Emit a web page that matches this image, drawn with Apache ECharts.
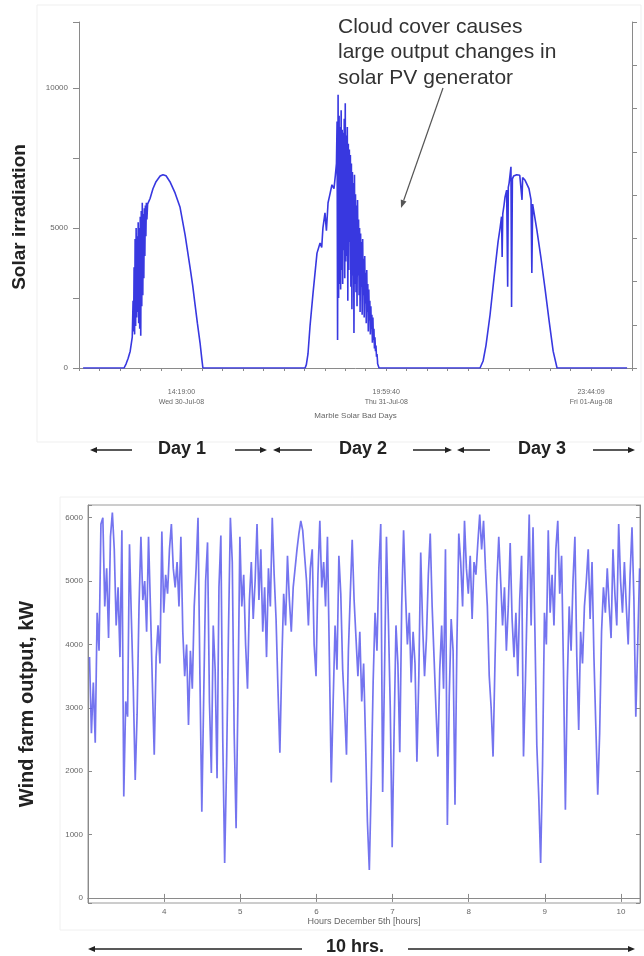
<!DOCTYPE html>
<html>
<head>
<meta charset="utf-8">
<script src="https://cdn.jsdelivr.net/npm/echarts@6/dist/echarts.min.js"></script>
<style>
  html, body { margin: 0; padding: 0; background: #fff; }
  #chart { width: 644px; height: 956px; }
</style>
</head>
<body>
<div id="chart"></div>
<script>
// ---- Solar irradiation, three sample days (x in time-axis units) ----
const solarTickValues = [10, 20, 30];
const solarTickLabels = ['14:19:00\nWed 30-Jul-08', '19:59:40\nThu 31-Jul-08', '23:44:09\nFri 01-Aug-08'];

const day1Rise = [[5.20, 0], [7.20, 0], [7.30, 150], [7.40, 350], [7.50, 600], [7.60, 1100]];
// cloud-affected stretch on day 1, sampled every 0.025 units
const day1CloudStart = 7.64;
const day1CloudValues = [
  2400, 1300, 3600, 1200, 4600, 1500, 5000, 1800, 4700, 2000,
  5200, 1600, 5000, 1400, 5400, 1150, 5600, 2200, 5900, 2600,
  5500, 3200, 5700, 4000, 5800, 4700, 5900, 5300];
const day1Fall = [[8.35, 5850], [8.47, 6050], [8.61, 6400], [8.76, 6650], [8.96, 6850], [9.10, 6900],
  [9.25, 6860], [9.44, 6650], [9.69, 6250], [9.93, 5750], [10.18, 4750], [10.42, 3600], [10.55, 2950],
  [10.66, 2300], [10.78, 1600], [10.91, 900], [11.00, 300], [11.05, 0]];

const day2Rise = [[16.04, 0], [16.10, 120], [16.18, 500], [16.28, 1500], [16.43, 2700], [16.62, 4100],
  [16.77, 4460], [16.85, 4300], [16.91, 5000], [17.01, 5540], [17.08, 4900], [17.16, 5900], [17.25, 6200],
  [17.35, 6540], [17.45, 6400], [17.52, 6900], [17.57, 7300]];
// heavy cloud cover on day 2, sampled every 0.025 units
const day2CloudStart = 17.60;
const day2CloudValues = [
  8800, 1000, 9750, 2500, 9000, 3000, 8600, 2800, 9200, 3500,
  8500, 3000, 8400, 4200, 8900, 3200, 9450, 3800, 8300, 4000,
  8600, 2400, 8000, 3500, 7800, 4500, 7600, 2900, 7300, 2100,
  7000, 3300, 6600, 1250, 6900, 3000, 6200, 2700, 5800, 2200,
  6000, 3300, 5300, 2600, 5000, 2000, 4800, 2900, 4500, 1900,
  4600, 2600, 3900, 1800, 4000, 2300, 3400, 1600, 3500, 2000,
  3000, 1300, 2800, 1700, 2400, 1200, 2200, 1400, 1900, 900,
  1800, 1000, 1400, 700, 1100, 600, 800, 400, 500, 250];
const day2Fall = [[19.58, 150], [19.65, 0]];

const day3Curve = [[24.58, 0], [24.73, 250], [24.87, 800], [25.07, 1900], [25.26, 3200], [25.46, 4500],
  [25.56, 5000], [25.63, 5400], [25.66, 3960], [25.69, 5500], [25.75, 5800], [25.80, 6100], [25.88, 6350],
  [25.93, 2900], [25.96, 6450], [26.00, 6600], [26.05, 6650], [26.09, 7180], [26.12, 2180], [26.16, 6750],
  [26.22, 6850], [26.29, 6880], [26.37, 6900], [26.44, 6900], [26.52, 6880], [26.60, 6840], [26.63, 6000],
  [26.66, 6800], [26.78, 6700], [26.97, 6400], [27.07, 6000], [27.11, 3390], [27.15, 5850], [27.17, 5750],
  [27.36, 4900], [27.56, 3900], [27.76, 2800], [27.95, 1700], [28.15, 600], [28.34, 0], [31.76, 0]];

const cloudStep = 0.025;

// ---- Wind farm output, kW (hours on December 5th) ----
const windStart = 3.02;
const windStep = 0.025;
const windValues = [
  3800, 2600, 3400, 2450, 4500, 3900, 5900, 6000, 4600, 5200,
  4100, 5700, 6080, 5500, 4300, 4900, 3800, 5800, 1600, 3100,
  2860, 5580, 4400, 3300, 1860, 2900, 4600, 5700, 4700, 5000,
  4200, 5700, 4600, 3400, 2260, 3800, 4300, 3700, 5780, 4500,
  5100, 4800, 5500, 5900, 5200, 4900, 5300, 4600, 5700, 4200,
  3500, 4000, 2730, 3900, 3300, 4600, 5200, 6000, 3500, 1360,
  3200, 5000, 5610, 3100, 1970, 4300, 3600, 1890, 4900, 5720,
  2500, 550, 2100, 4200, 6000, 5300, 2600, 1100, 3200, 5700,
  4600, 5100, 4000, 3300, 4700, 5300, 4400, 5000, 5900, 4700,
  5500, 4200, 4900, 3800, 5200, 4600, 6000, 5100, 4400, 3300,
  2290, 3700, 4800, 4300, 5400, 4700, 4200, 4900, 5200, 5500,
  5750, 5950, 5800, 5400, 5000, 4300, 5200, 5500, 4000, 3500,
  5100, 5950, 4900, 5300, 4600, 5700, 3800, 1820, 3100, 4300,
  3600, 5400, 4800, 3600, 3000, 2260, 3900, 4800, 5650, 4700,
  4100, 3500, 4200, 3100, 3700, 2500, 1200, 440, 1800, 3400,
  4500, 3900, 5200, 5900, 1670, 3600, 5700, 4400, 3000, 800,
  2600, 4300, 3700, 2300, 4600, 5800, 4800, 4000, 4500, 3400,
  4200, 3700, 2150, 3500, 5450, 4300, 3500, 4100, 5100, 5750,
  4600, 3800, 3000, 2230, 3600, 4300, 3300, 5500, 1150, 3200,
  4400, 3900, 1470, 4000, 5750, 5300, 4600, 5950, 5200, 4800,
  5400, 4400, 5300, 5100, 5600, 6050, 5500, 5950, 5200, 4600,
  3500, 3000, 2230, 3700, 5000, 5700, 5000, 4300, 4900, 3900,
  4600, 5600, 4400, 3800, 4500, 3500, 4700, 5400, 2230, 3400,
  4800, 6050, 4300, 5850, 4200, 2400, 1600, 550, 2100, 4500,
  4000, 5800, 4500, 5100, 4300, 5500, 5950, 4800, 5400, 3600,
  1390, 3400, 4600, 3900, 5000, 5700, 3800, 2650, 4200, 3700,
  4600, 5000, 5500, 4400, 5300, 3800, 2700, 1630, 2600, 4200,
  4900, 4500, 5200, 4600, 4100, 5500, 4800, 4300, 5900, 5000,
  4500, 5300, 4600, 4000, 5100, 5850, 4700, 2860, 4000, 5200];

// ---- assemble series data ----
function sampled(start, step, values) {
  return values.map((v, i) => [+(start + i * step).toFixed(4), v]);
}
const solarData = [].concat(
  day1Rise,
  sampled(day1CloudStart, cloudStep, day1CloudValues),
  day1Fall,
  day2Rise,
  sampled(day2CloudStart, cloudStep, day2CloudValues),
  day2Fall,
  day3Curve
);
const windData = sampled(windStart, windStep, windValues);

// ---- annotation helpers ----
const INK = '#222';
function arrow(xFrom, xTo, y, color, width) {
  // straight horizontal arrow whose head sits at xTo
  const dir = xTo > xFrom ? 1 : -1;
  const head = 7, half = 3;
  return [
    { type: 'line', silent: true, shape: { x1: xFrom, y1: y, x2: xTo - dir * head, y2: y },
      style: { stroke: color, lineWidth: width } },
    { type: 'polygon', silent: true,
      shape: { points: [[xTo, y], [xTo - dir * head, y - half], [xTo - dir * head, y + half]] },
      style: { fill: color } }
  ];
}
function slantArrow(x1, y1, x2, y2, color) {
  const ang = Math.atan2(y2 - y1, x2 - x1);
  const L = 8, W = 3;
  const bx = x2 - L * Math.cos(ang), by = y2 - L * Math.sin(ang);
  const px = -Math.sin(ang) * W, py = Math.cos(ang) * W;
  return [
    { type: 'line', silent: true, shape: { x1: x1, y1: y1, x2: bx, y2: by },
      style: { stroke: color, lineWidth: 1.2 } },
    { type: 'polygon', silent: true,
      shape: { points: [[x2, y2], [bx + px, by + py], [bx - px, by - py]] },
      style: { fill: color } }
  ];
}
function bigLabel(text, x, y) {
  return { type: 'text', silent: true,
    style: { text: text, x: x, y: y, align: 'center', verticalAlign: 'middle',
      font: 'bold 18px "Liberation Sans", Arial, sans-serif', fill: INK } };
}

const graphics = [].concat(
  [
    { type: 'rect', silent: true, shape: { x: 37, y: 5, width: 604, height: 437 },
      style: { fill: 'none', stroke: '#efefef', lineWidth: 1 } },
    { type: 'rect', silent: true, shape: { x: 60, y: 497, width: 590, height: 433 },
      style: { fill: 'none', stroke: '#f0f0f0', lineWidth: 1 } },
    { type: 'text', silent: true,
      style: { text: 'Cloud cover causes\nlarge output changes in\nsolar PV generator',
        x: 338, y: 14, align: 'left', verticalAlign: 'top', lineHeight: 25.5,
        font: '21px "Liberation Sans", Arial, sans-serif', fill: '#333' } }
  ],
  slantArrow(443, 88, 401, 208, '#555'),
  [bigLabel('Day 1', 182, 449), bigLabel('Day 2', 363, 449), bigLabel('Day 3', 542, 449)],
  arrow(132, 90, 450, INK, 1.5), arrow(235, 267, 450, INK, 1.5),
  arrow(312, 273, 450, INK, 1.5), arrow(413, 452, 450, INK, 1.5),
  arrow(490, 457, 450, INK, 1.5), arrow(593, 635, 450, INK, 1.5),
  [bigLabel('10 hrs.', 355, 947)],
  arrow(302, 88, 949, INK, 1.5), arrow(408, 635, 949, INK, 1.5)
);

const AX = '#8a8a8a';
const LBL = '#666';
const SMALL = '"Liberation Sans", Arial, sans-serif';

const option = {
  animation: false,
  backgroundColor: '#fff',
  grid: [
    { left: 79, right: 12, top: 22, bottom: 588 },
    { left: 88, right: 4, top: 505, bottom: 53, show: true, borderColor: '#9a9a9a', borderWidth: 1 }
  ],
  xAxis: [
    { gridIndex: 0, type: 'value', min: 5, max: 32, interval: 1, offset: 11,
      axisLine: { lineStyle: { color: AX } },
      axisTick: { show: true, length: 3, lineStyle: { color: AX } },
      splitLine: { show: false },
      axisLabel: { margin: 8, fontSize: 7, lineHeight: 10, color: LBL, fontFamily: SMALL,
        formatter: v => { const k = solarTickValues.indexOf(v); return k >= 0 ? solarTickLabels[k] : ''; } },
      name: 'Marble Solar Bad Days', nameLocation: 'middle', nameGap: 33,
      nameTextStyle: { fontSize: 8, color: LBL, fontFamily: SMALL } },
    { gridIndex: 1, type: 'value', min: 3, max: 10.25, interval: 1,
      axisLine: { lineStyle: { color: AX } },
      axisTick: { inside: true, length: 4, lineStyle: { color: AX } },
      splitLine: { show: false },
      axisLabel: { margin: 5, fontSize: 8, color: LBL, fontFamily: SMALL, showMinLabel: false,
        showMaxLabel: false, formatter: v => (Number.isInteger(v) && v > 3 ? String(v) : '') },
      name: 'Hours December 5th [hours]', nameLocation: 'middle', nameGap: 14,
      nameTextStyle: { fontSize: 9, color: LBL, fontFamily: SMALL } },
    { gridIndex: 1, type: 'value', position: 'top', min: 3, max: 10.25, interval: 1,
      axisLine: { lineStyle: { color: AX } },
      axisTick: { inside: true, length: 4, lineStyle: { color: AX } },
      splitLine: { show: false }, axisLabel: { show: false } }
  ],
  yAxis: [
    { gridIndex: 0, type: 'value', min: 0, max: 12350, interval: 2500,
      axisLine: { show: true, lineStyle: { color: AX } },
      axisTick: { show: true, length: 6, lineStyle: { color: AX } },
      splitLine: { show: false },
      axisLabel: { margin: 11, fontSize: 8, color: LBL, fontFamily: SMALL,
        formatter: v => (v % 5000 === 0 ? String(v) : '') },
      name: 'Solar irradiation', nameLocation: 'middle', nameGap: 50,
      nameTextStyle: { fontSize: 19, fontWeight: 'bold', color: INK, fontFamily: SMALL,
        padding: [0, 44, 0, 0] } },
    { gridIndex: 0, type: 'value', position: 'right', min: 0, max: 8, interval: 1,
      axisLine: { show: true, lineStyle: { color: AX } },
      axisTick: { show: true, length: 5, lineStyle: { color: AX } },
      splitLine: { show: false }, axisLabel: { show: false } },
    { gridIndex: 1, type: 'value', min: -80, max: 6200, splitNumber: 6,
      axisLine: { show: true, lineStyle: { color: AX } },
      axisTick: { show: true, inside: true, length: 4, lineStyle: { color: AX } },
      splitLine: { show: false },
      axisLabel: { margin: 5, fontSize: 8, color: LBL, fontFamily: SMALL,
        formatter: v => (v % 1000 === 0 ? String(v) : '') },
      name: 'Wind farm output, kW', nameLocation: 'middle', nameGap: 51,
      nameTextStyle: { fontSize: 20, fontWeight: 'bold', color: INK, fontFamily: SMALL } },
    { gridIndex: 1, type: 'value', position: 'right', min: -80, max: 6200, splitNumber: 6,
      axisLine: { show: true, lineStyle: { color: AX } },
      axisTick: { show: true, inside: true, length: 4, lineStyle: { color: AX } },
      splitLine: { show: false }, axisLabel: { show: false } }
  ],
  series: [
    { type: 'line', xAxisIndex: 0, yAxisIndex: 0, data: solarData, showSymbol: false,
      silent: true, lineStyle: { color: '#3838e0', width: 1.6 } },
    { type: 'line', xAxisIndex: 1, yAxisIndex: 2, data: windData, showSymbol: false,
      silent: true, lineStyle: { color: '#5c5cec', width: 1.7, opacity: 0.85 } }
  ],
  graphic: graphics
};

const chart = echarts.init(document.getElementById('chart'), null, { renderer: 'canvas' });
chart.setOption(option);
</script>
</body>
</html>
